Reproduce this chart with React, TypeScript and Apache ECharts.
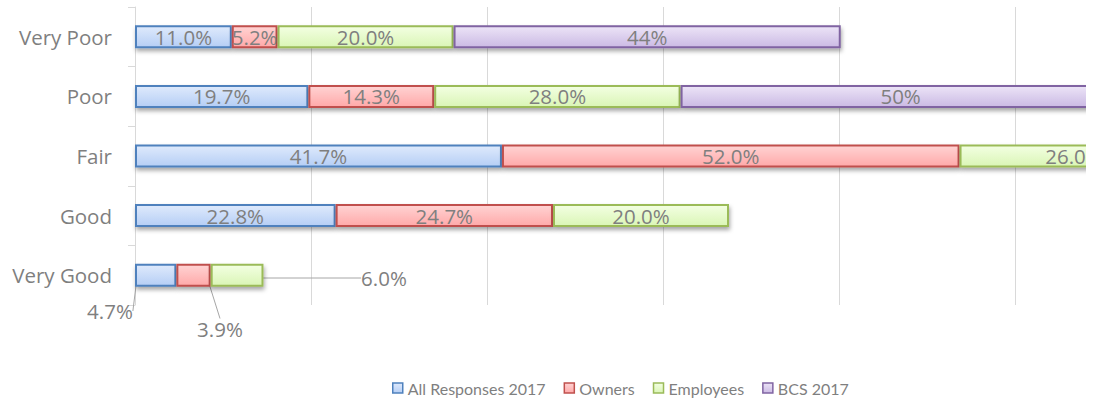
import React, { useEffect, useRef } from "react";
import * as echarts from "echarts";

const categories = ["Very Poor", "Poor", "Fair", "Good", "Very Good"];
const seriesNames = ["All Responses 2017", "Owners", "Employees", "BCS 2017"];
const allResponses = [11.0, 19.7, 41.7, 22.8, 4.7];
const owners = [5.2, 14.3, 52.0, 24.7, 3.9];
const employees = [20.0, 28.0, 26.0, 20.0, 6.0];
const bcs2017: (number | null)[] = [44, 50, null, null, null];
const decimals = [1, 1, 1, 0];

const fills = [
  ["#dfeafc", "#b5cef5", "#4f81bd"],
  ["#ffd3d3", "#ffa9a9", "#c0504d"],
  ["#f3ffe2", "#daf5b6", "#9bbb59"],
  ["#ece4f7", "#cbbae4", "#8064a2"],
];

// callout label positions for the "Very Good" row (series index -> [x, y])
const callouts: Record<number, [number, number]> = {
  0: [110, 311],
  1: [220, 329],
  2: [384, 278],
};

export default function App() {
  const ref = useRef<HTMLDivElement>(null);
  useEffect(() => {
    if (!ref.current) return;
    const chart = echarts.init(ref.current, null, { renderer: "svg" });
    const dataSets = [allResponses, owners, employees, bcs2017];
    const font = "'Open Sans', sans-serif";
    const legendFont = "Lato, sans-serif";
    const series = dataSets.map((vals, si) => ({
      name: seriesNames[si],
      type: "bar",
      stack: "total",
      barWidth: 23,
      data: vals.map((v, di) =>
        di === 4 && callouts[si]
          ? { value: v, labelLine: { show: true, lineStyle: { color: "#a6a6a6", width: 1 } } }
          : v
      ),
      itemStyle: {
        color: new echarts.graphic.LinearGradient(0, 0, 0, 1, [
          { offset: 0, color: fills[si][0] },
          { offset: 1, color: fills[si][1] },
        ]),
        borderColor: fills[si][2],
        borderWidth: 2,
        shadowColor: "rgba(0,0,0,0.35)",
        shadowBlur: 4,
        shadowOffsetY: 3,
        shadowOffsetX: 1,
      },
      label: {
        show: true,
        position: "inside",
        color: "#7f7f7f",
        fontSize: 20.5,
        fontFamily: font,
        formatter: (p: any) => `${Number(p.value).toFixed(decimals[si])}%`,
      },
      labelLine: { show: false },
      labelLayout: (params: any) => {
        if (params.dataIndex === 4 && callouts[si]) {
          return {
            x: callouts[si][0],
            y: callouts[si][1],
            align: "center",
            verticalAlign: "middle",
          };
        }
        return {};
      },
    }));
    chart.setOption({
      animation: false,
      textStyle: { fontFamily: font },
      grid: { left: 135, top: 7, width: 1056, height: 298, containLabel: false },
      xAxis: {
        type: "value",
        min: 0,
        max: 120,
        interval: 20,
        axisLabel: { show: false },
        axisLine: { show: false },
        axisTick: { show: false },
        splitLine: { lineStyle: { color: "#d9d9d9", width: 1 } },
      },
      yAxis: {
        type: "category",
        data: categories,
        inverse: true,
        axisLine: { show: true, lineStyle: { color: "#d9d9d9", width: 1 } },
        axisTick: { show: true, length: 7, lineStyle: { color: "#d9d9d9" } },
        axisLabel: { color: "#7f7f7f", fontSize: 20.5, fontFamily: font, margin: 23 },
      },
      legend: {
        data: seriesNames,
        left: 387,
        top: 375,
        icon: "rect",
        itemWidth: 10,
        itemHeight: 10,
        itemGap: 18,
        textStyle: { color: "#7f7f7f", fontSize: 16, fontFamily: legendFont },
        itemStyle: { shadowBlur: 0, shadowOffsetX: 0, shadowOffsetY: 0, borderWidth: 1.5 },
      },
      series,
    });
    return () => chart.dispose();
  }, []);
  return (
    <div
      style={{
        position: "absolute",
        left: 0,
        top: 0,
        width: 1086,
        height: 403,
        overflow: "hidden",
        background: "#fff",
      }}
    >
      <div ref={ref} style={{ width: 1300, height: 403 }} />
    </div>
  );
}
